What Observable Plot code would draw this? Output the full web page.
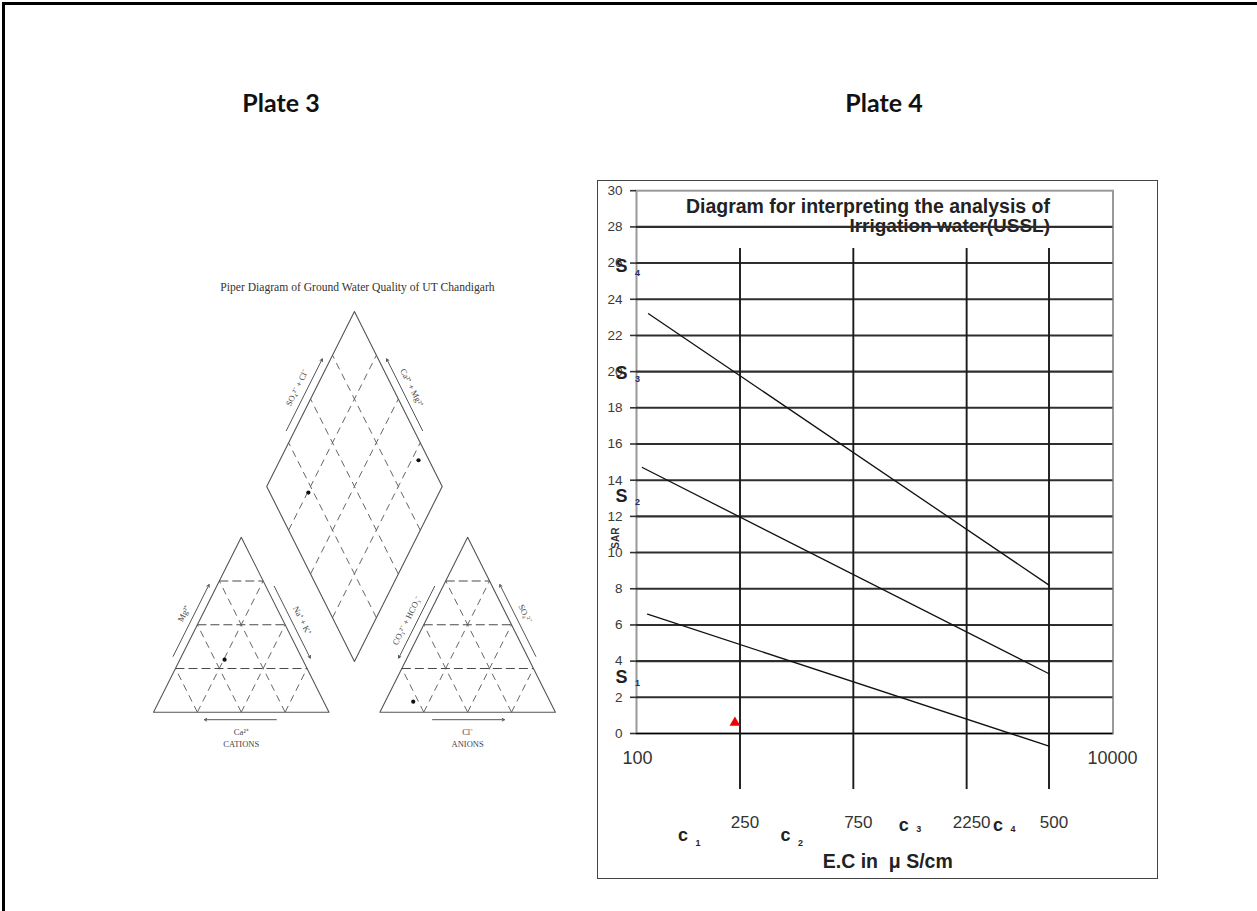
<!DOCTYPE html>
<html>
<head>
<meta charset="utf-8">
<script src="https://cdn.jsdelivr.net/npm/d3@7"></script>
<script src="https://cdn.jsdelivr.net/npm/@observablehq/plot@0.6"></script>
<style>
html,body{margin:0;padding:0;background:#fff;}
body{width:1257px;height:911px;position:relative;overflow:hidden;font-family:"Liberation Sans",Arial,sans-serif;}
#page-border{position:absolute;left:2px;top:2px;width:1400px;height:1000px;border-left:3px solid #000;border-top:3px solid #000;}
.plate{position:absolute;font-family:Lato,"Open Sans",sans-serif;font-weight:700;font-size:25px;color:#111;transform:translate(-50%,-50%);white-space:nowrap;}
#piper{position:absolute;left:120px;top:275px;}
#ussl{position:absolute;left:597px;top:180px;border:1.5px solid #444;width:559px;height:697px;}
svg{overflow:visible;}
</style>
</head>
<body>
<div id="page-border"></div>
<div class="plate" style="left:281px;top:102px">Plate 3</div>
<div class="plate" style="left:884px;top:102px">Plate 4</div>
<div id="piper"></div>
<div id="ussl"></div>
<script>
// ---------------- DATA ----------------
// Plate 3 : Piper diagram
const piperTitle = "Piper Diagram of Ground Water Quality of UT Chandigarh";
const cationCa = [44.5];
const cationMg = [30];
const cationNaK = [25.5];
const anionHCO3 = [78];
const anionSO4 = [6];
const anionCl = [16];
const diamondSO4Cl = [22, 94];
const diamondCaMg = [74.5, 21];
const piperGridPercent = [25, 50, 75];

// Plate 4 : USSL diagram
const usslTitle = ["Diagram for interpreting the analysis of", "Irrigation water(USSL)"];
const sarTicks = [0, 2, 4, 6, 8, 10, 12, 14, 16, 18, 20, 22, 24, 26, 28, 30];
const ecAxisValues = [100, 10000];
const ecAxisLabels = ["100", "10000"];
const ecClassBounds = [250, 750, 2250, 5000];
const ecClassLabels = ["250", "750", "2250", "500"];
const salinityClassNames = ["1", "2", "3", "4"];
const salinityClassEC = [144, 389, 1222, 3050];
const sodiumClassNames = ["1", "2", "3", "4"];
const sodiumClassSAR = [3.1, 13.1, 19.9, 25.8];
const classLineSAR = [-3.1, 26.8];
const boundaryS1S2EC = [102, 5000], boundaryS1S2SAR = [6.6, -0.7];
const boundaryS2S3EC = [97, 5000], boundaryS2S3SAR = [14.7, 3.3];
const boundaryS3S4EC = [103, 5000], boundaryS3S4SAR = [23.2, 8.2];
const sampleEC = [238];
const sampleSAR = [0.6];

// ---------------- PIPER ----------------
{
  const W = 450, H = 490, ML = 33, MR = 15.1, MT = 36, MB = 53.3;
  const G = 0.29;                 // gap between the triangles (in side units)
  const SPAN = 2 + G;
  const SX = (W - ML - MR) / SPAN, SY = (H - MT - MB) / SPAN;
  const OX = 1 + G;
  const add = (...ps) => ps.reduce((a, p) => [a[0] + p[0], a[1] + p[1]], [0, 0]);
  const mul = (p, k) => [p[0] * k, p[1] * k];
  const B = [1 + G / 2, G], R = [0.5, 1], L = [-0.5, 1];

  const shapes = {
    cat: [[0, 0], [1, 0], [0.5, 1], [0, 0]],
    an: [[OX, 0], [OX + 1, 0], [OX + 0.5, 1], [OX, 0]],
    dia: [B, add(B, R), add(B, R, L), add(B, L), B]
  };
  const outline = Object.entries(shapes).flatMap(([k, pts]) => pts.map(([x, y]) => ({k, x, y})));

  const horiz = [], diag = [];
  for (const pc of piperGridPercent) {
    const f = pc / 100;
    for (const o of [0, OX]) {
      horiz.push({x1: o + f / 2, y1: f, x2: o + 1 - f / 2, y2: f});
      diag.push({x1: o + f, y1: 0, x2: o + (1 + f) / 2, y2: 1 - f});
      diag.push({x1: o + f, y1: 0, x2: o + f / 2, y2: f});
    }
    const a0 = add(B, mul(R, f)), a1 = add(a0, L);
    const b0 = add(B, mul(L, f)), b1 = add(b0, R);
    diag.push({x1: a0[0], y1: a0[1], x2: a1[0], y2: a1[1]});
    diag.push({x1: b0[0], y1: b0[1], x2: b1[0], y2: b1[1]});
  }

  function along(p0, p1, t, d) {
    const vx = (p1[0] - p0[0]) * SX, vy = (p1[1] - p0[1]) * SY;
    const len = Math.hypot(vx, vy);
    const nx = -vy / len, ny = vx / len;
    return [p0[0] + t * (p1[0] - p0[0]) + nx * d / SX, p0[1] + t * (p1[1] - p0[1]) + ny * d / SY];
  }
  const ANG = Math.atan2(SY, SX * 0.5) * 180 / Math.PI;
  const edges = [
    {text: "Mg²⁺", p0: [0, 0], p1: [0.5, 1], s: 1, rot: -ANG},
    {text: "Na⁺ + K⁺", p0: [0.5, 1], p1: [1, 0], s: 1, rot: ANG},
    {text: "CO₃²⁻ + HCO₃⁻", p0: [OX + 0.5, 1], p1: [OX, 0], s: -1, rot: -ANG},
    {text: "SO₄²⁻", p0: [OX + 1, 0], p1: [OX + 0.5, 1], s: -1, rot: ANG},
    {text: "SO₄²⁻ + Cl⁻", p0: add(B, L), p1: add(B, L, R), s: 1, rot: -ANG},
    {text: "Ca²⁺ + Mg²⁺", p0: add(B, R), p1: add(B, R, L), s: -1, rot: ANG},
    {text: null, p0: [1, 0], p1: [0, 0], s: 1, rot: 0},
    {text: null, p0: [OX, 0], p1: [OX + 1, 0], s: -1, rot: 0}
  ];
  const arrows = edges.map(e => {
    const a = along(e.p0, e.p1, 0.3, 7.5 * e.s), b = along(e.p0, e.p1, 0.71, 7.5 * e.s);
    return {x1: a[0], y1: a[1], x2: b[0], y2: b[1]};
  });
  const labels = edges.filter(e => e.text).map(e => {
    const p = along(e.p0, e.p1, 0.52, 17 * e.s);
    return {x: p[0], y: p[1], text: e.text, rot: e.rot};
  });
  const baseLabels = [
    ...[["Ca²⁺", 20], ["CATIONS", 31.6]].map(([t, d]) => { const p = along([1, 0], [0, 0], 0.5, d); return {x: p[0], y: p[1], text: t}; }),
    ...[["Cl⁻", 20], ["ANIONS", 31.6]].map(([t, d]) => { const p = along([OX, 0], [OX + 1, 0], 0.5, -d); return {x: p[0], y: p[1], text: t}; })
  ];

  const pts = [];
  cationCa.forEach((ca, i) => pts.push({x: cationNaK[i] / 100 + cationMg[i] / 200, y: cationMg[i] / 100}));
  anionHCO3.forEach((h, i) => pts.push({x: OX + anionCl[i] / 100 + anionSO4[i] / 200, y: anionSO4[i] / 100}));
  diamondSO4Cl.forEach((s, i) => {
    const p = add(B, mul(R, s / 100), mul(L, diamondCaMg[i] / 100));
    pts.push({x: p[0], y: p[1]});
  });

  const piper = Plot.plot({
    width: W, height: H, marginLeft: ML, marginRight: MR, marginTop: MT, marginBottom: MB,
    x: {domain: [0, SPAN], axis: null},
    y: {domain: [0, SPAN], axis: null},
    style: {fontFamily: "Liberation Serif", background: "transparent", overflow: "visible"},
    marks: [
      Plot.text([piperTitle], {frameAnchor: "top", dy: -24, dx: 3, fontSize: 11.6, fill: "#333", textAnchor: "middle", lineAnchor: "middle"}),
      Plot.link(diag, {x1: "x1", y1: "y1", x2: "x2", y2: "y2", stroke: "#666", strokeWidth: 1, strokeDasharray: "7,5"}),
      Plot.link(horiz, {x1: "x1", y1: "y1", x2: "x2", y2: "y2", stroke: "#4a4a4a", strokeWidth: 1.1, strokeDasharray: "9,4"}),
      Plot.line(outline, {x: "x", y: "y", z: "k", stroke: "#555", strokeWidth: 1.1}),
      Plot.arrow(arrows, {x1: "x1", y1: "y1", x2: "x2", y2: "y2", stroke: "#555", strokeWidth: 1, headLength: 4}),
      Plot.text(labels, {x: "x", y: "y", text: "text", rotate: "rot", fontSize: 8.5, fill: "#444", textAnchor: "middle", lineAnchor: "middle"}),
      Plot.text(baseLabels, {x: "x", y: "y", text: "text", fontSize: 8.5, fill: "#444", textAnchor: "middle", lineAnchor: "middle"}),
      Plot.dot(pts, {x: "x", y: "y", r: 2.1, fill: "#111"})
    ]
  });
  document.getElementById("piper").append(piper);
}

// ---------------- USSL ----------------
{
  const W = 559, H = 697, ML = 38, MR = 44.5, MT = 9.2, MB = 145;
  const boundaries = [
    ["S1/S2", boundaryS1S2EC, boundaryS1S2SAR],
    ["S2/S3", boundaryS2S3EC, boundaryS2S3SAR],
    ["S3/S4", boundaryS3S4EC, boundaryS3S4SAR]
  ].flatMap(([name, ec, sar]) => ec.map((e, i) => ({name, ec: e, sar: sar[i]})));
  const sodium = sodiumClassNames.map((n, i) => ({n, sar: sodiumClassSAR[i]}));
  const salinity = salinityClassNames.map((n, i) => ({n, ec: salinityClassEC[i]}));
  const samples = sampleEC.map((e, i) => ({ec: e, sar: sampleSAR[i]}));

  const ussl = Plot.plot({
    width: W, height: H, marginLeft: ML, marginRight: MR, marginTop: MT, marginBottom: MB,
    x: {type: "log", domain: [100, 10000], range: [47, 522], axis: null},
    y: {domain: [0, 30], axis: null},
    style: {fontFamily: "Liberation Sans", background: "transparent", overflow: "visible"},
    marks: [
      Plot.text(usslTitle.slice(0, 1), {frameAnchor: "top-right", dx: -63, dy: 16, fontSize: 19.5, fontWeight: "bold", fill: "#222", textAnchor: "end", lineAnchor: "middle"}),
      Plot.text(usslTitle.slice(1), {frameAnchor: "top-right", dx: -63, dy: 35, fontSize: 19, fontWeight: "bold", fill: "#222", textAnchor: "end", lineAnchor: "middle"}),
      Plot.frame({stroke: "#9a9a9a", strokeWidth: 2}),
      Plot.ruleY(sarTicks.filter(v => v > 0 && v < 30), {stroke: "#2e2e2e", strokeWidth: 2.1}),
      Plot.ruleY([0], {stroke: "#000", strokeWidth: 1.7}),
      Plot.axisY(sarTicks, {tickSize: 6, tickPadding: 8, fontSize: 13.5, color: "#3a3a3a", stroke: "#333", strokeWidth: 1.6, line: true, label: null}),
      Plot.ruleX(ecClassBounds, {y1: classLineSAR[0], y2: classLineSAR[1], stroke: "#1a1a1a", strokeWidth: 1.9}),
      Plot.line(boundaries, {x: "ec", y: "sar", z: "name", stroke: "#111", strokeWidth: 1.3}),
      Plot.dot(samples, {x: "ec", y: "sar", symbol: "triangle", r: 4, fill: "#ee0000"}),
      Plot.text(sodium, {y: "sar", text: () => "S", frameAnchor: "left", dx: -15, fontSize: 18, fontWeight: "bold", fill: "#222", textAnchor: "middle", lineAnchor: "middle"}),
      Plot.text(sodium, {y: "sar", text: "n", frameAnchor: "left", dx: 1, dy: 6, fontSize: 9, fontWeight: "bold", fill: "#1d2d6d", textAnchor: "middle", lineAnchor: "middle"}),
      Plot.text(["SAR"], {frameAnchor: "left", dx: -21, dy: 76, rotate: -90, fontSize: 10, fontWeight: "bold", fill: "#333", textAnchor: "middle", lineAnchor: "middle"}),
      Plot.text(ecAxisValues, {x: d => d, text: (d, i) => ecAxisLabels[i], frameAnchor: "bottom", dx: -8, dy: 24.5, fontSize: 18, fill: "#333", textAnchor: "middle", lineAnchor: "middle"}),
      Plot.text(ecClassBounds, {x: d => d, text: (d, i) => ecClassLabels[i], frameAnchor: "bottom", dx: 5, dy: 89.5, fontSize: 17, fill: "#333", textAnchor: "middle", lineAnchor: "middle"}),
      Plot.text(salinity.slice(0, 2), {x: "ec", text: () => "c", frameAnchor: "bottom", dy: 102, fontSize: 18, fontWeight: "bold", fill: "#222", textAnchor: "middle", lineAnchor: "middle"}),
      Plot.text(salinity.slice(0, 2), {x: "ec", text: "n", frameAnchor: "bottom", dx: 15, dy: 110, fontSize: 9, fontWeight: "bold", fill: "#3a1a1a", textAnchor: "middle", lineAnchor: "middle"}),
      Plot.text(salinity.slice(2), {x: "ec", text: () => "c", frameAnchor: "bottom", dy: 91.5, fontSize: 18, fontWeight: "bold", fill: "#222", textAnchor: "middle", lineAnchor: "middle"}),
      Plot.text(salinity.slice(2), {x: "ec", text: "n", frameAnchor: "bottom", dx: 15, dy: 96, fontSize: 9, fontWeight: "bold", fill: "#3a1a1a", textAnchor: "middle", lineAnchor: "middle"}),
      Plot.text(["E.C in  μ S/cm"], {frameAnchor: "bottom", dx: 13, dy: 128.5, fontSize: 19.5, fontWeight: "bold", fill: "#222", textAnchor: "middle", lineAnchor: "middle"})
    ]
  });
  document.getElementById("ussl").append(ussl);
}
</script>
</body>
</html>
